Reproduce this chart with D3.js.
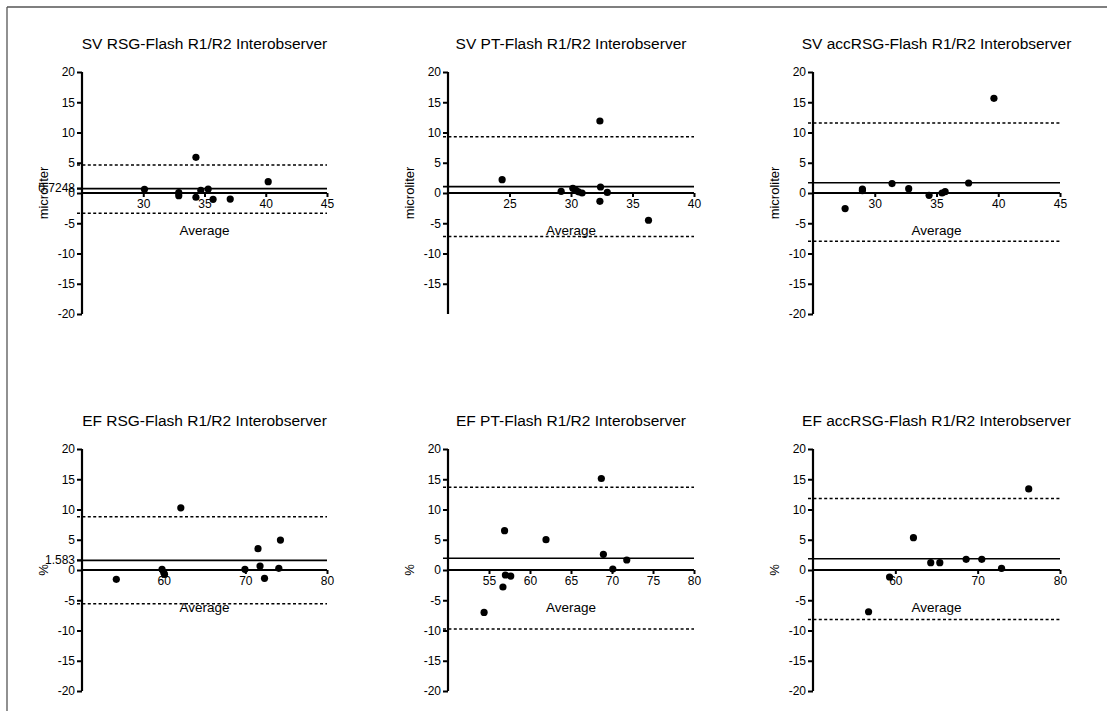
<!DOCTYPE html>
<html><head><meta charset="utf-8">
<script src="https://cdn.jsdelivr.net/npm/d3@7"></script>
<style>
html,body{margin:0;padding:0;background:#fff;}
svg{display:block;font-family:"Liberation Sans",Arial,Helvetica,sans-serif;}
</style></head>
<body>
<svg id="chart" width="1107" height="711"></svg>
<script>
// ---------- data ----------
const titles = [
  "SV RSG-Flash R1/R2 Interobserver",
  "SV PT-Flash R1/R2 Interobserver",
  "SV accRSG-Flash R1/R2 Interobserver",
  "EF RSG-Flash R1/R2 Interobserver",
  "EF PT-Flash R1/R2 Interobserver",
  "EF accRSG-Flash R1/R2 Interobserver"
];
const yTitles = ["microliter","microliter","microliter","%","%","%"];
const xTitle = "Average";
const xDomains = [[25,45],[20,40],[25,45],[50,80],[50,80],[50,80]];
const xTickValues = [[30,35,40,45],[25,30,35,40],[30,35,40,45],[60,70,80],[55,60,65,70,75,80],[60,70,80]];
const yDomain = [-20,20];
const yTickFull = [20,15,10,5,0,-5,-10,-15,-20];
const yTickNoBottom = [20,15,10,5,0,-5,-10,-15];
const yTickValues = [yTickFull,yTickNoBottom,yTickFull,yTickFull,yTickFull,yTickFull];
const bias = [0.7248, 1.05, 1.7, 1.583, 1.95, 1.85];
const biasLabels = ["0.7248", null, null, "1.583", null, null];
const upperLoA = [4.63, 9.3, 11.57, 8.8, 13.68, 11.8];
const lowerLoA = [-3.36, -7.17, -7.98, -5.58, -9.77, -8.18];

const svRsgAvg  = [30.1, 32.9, 32.9, 34.3, 34.3, 34.7, 35.3, 35.7, 37.1, 40.2];
const svRsgDiff = [0.6, 0.05, -0.45, 5.9, -0.7, 0.45, 0.66, -1.04, -1.0, 1.87];
const svPtAvg   = [24.4, 29.2, 30.15, 30.4, 30.6, 30.9, 32.35, 32.4, 32.35, 32.95, 36.3];
const svPtDiff  = [2.2, 0.27, 0.77, 0.44, 0.2, 0.0, 11.9, 0.99, -1.38, 0.1, -4.5];
const svAccAvg  = [27.6, 29.0, 29.0, 31.4, 32.75, 34.4, 35.45, 35.7, 37.6, 39.65];
const svAccDiff = [-2.58, 0.65, 0.4, 1.55, 0.72, -0.38, 0.0, 0.22, 1.65, 15.65];
const efRsgAvg  = [54.2, 59.8, 60.0, 60.1, 62.1, 69.95, 71.55, 71.8, 72.35, 74.1, 74.3];
const efRsgDiff = [-1.54, 0.11, -0.38, -0.71, 10.28, 0.11, 3.52, 0.66, -1.37, 0.28, 4.95];
const efPtAvg   = [54.4, 56.7, 56.9, 57.0, 57.65, 61.95, 68.7, 68.95, 70.1, 71.8];
const efPtDiff  = [-7.02, -2.81, 6.5, -0.83, -1.0, 5.02, 15.12, 2.59, 0.16, 1.65];
const efAccAvg  = [56.75, 59.3, 62.2, 64.3, 65.4, 68.6, 70.5, 72.9, 76.2];
const efAccDiff = [-6.9, -1.16, 5.35, 1.21, 1.21, 1.76, 1.76, 0.27, 13.4];

const avgs  = [svRsgAvg, svPtAvg, svAccAvg, efRsgAvg, efPtAvg, efAccAvg];
const diffs = [svRsgDiff, svPtDiff, svAccDiff, efRsgDiff, efPtDiff, efAccDiff];

// ---------- layout ----------
const colRanges = [[82,327],[448,694],[813,1060]];
const rowRanges = [[314,72],[691,449]];

const svg = d3.select("#chart");

// frame
svg.append("line").attr("x1",7).attr("y1",7).attr("x2",1107).attr("y2",7)
  .attr("stroke","#555").attr("stroke-width",1.3);
svg.append("line").attr("x1",7).attr("y1",7).attr("x2",7).attr("y2",711)
  .attr("stroke","#555").attr("stroke-width",1.3);

titles.forEach((t,i)=>{
  const col = i%3, row = Math.floor(i/3);
  const x = d3.scaleLinear().domain(xDomains[i]).range(colRanges[col]);
  const y = d3.scaleLinear().domain(yDomain).range(rowRanges[row]);
  const g = svg.append("g");
  const x0 = x.range()[0], x1 = x.range()[1];
  const y0 = y(0);

  // title
  g.append("text").attr("x",(x0+x1)/2).attr("y",y(20)-23)
    .attr("text-anchor","middle").attr("font-size","15.5px").attr("fill","#000").text(t);

  // reference lines
  const hline = (v,dash,w)=>g.append("line")
    .attr("x1",x0-5).attr("x2",x1).attr("y1",y(v)).attr("y2",y(v))
    .attr("stroke","#000").attr("stroke-width",w)
    .attr("stroke-dasharray",dash);
  hline(upperLoA[i],"3,2.4",1.5);
  hline(lowerLoA[i],"3,2.4",1.5);
  hline(bias[i],null,1.6);

  // y axis
  const ticks = yTickValues[i].slice();
  const yAxis = d3.axisLeft(y).tickValues(ticks).tickSize(5).tickPadding(2).tickSizeOuter(0)
    .tickFormat(d=>d);
  const ya = g.append("g").attr("transform",`translate(${x0},0)`).call(yAxis);
  ya.select(".domain").attr("stroke","#000").attr("stroke-width",2.2).attr("d",`M0,${y(20)}V${y(-20)}`);
  ya.selectAll(".tick line").attr("stroke","#000").attr("stroke-width",2);
  ya.selectAll(".tick text").attr("font-size","12px").attr("fill","#000").attr("font-family","Liberation Sans, Arial, sans-serif");
  if (biasLabels[i]) {
    const bt = ya.append("g").attr("class","tick").attr("transform",`translate(0,${y(bias[i])})`);
    bt.append("line").attr("x2",-5).attr("stroke","#000").attr("stroke-width",2);
    bt.append("text").attr("x",-7).attr("dy","0.32em").attr("text-anchor","end")
      .attr("font-size","12px").attr("fill","#000").text(biasLabels[i]);
  }

  // x axis at zero
  const xAxis = d3.axisBottom(x).tickValues(xTickValues[i]).tickSize(4).tickPadding(2).tickSizeOuter(0)
    .tickFormat(d=>d);
  const xa = g.append("g").attr("transform",`translate(0,${y0})`).call(xAxis);
  xa.select(".domain").attr("stroke","#000").attr("stroke-width",2.2).attr("d",`M${x0},0H${x1}`);
  xa.selectAll(".tick line").attr("stroke","#000").attr("stroke-width",2);
  xa.selectAll(".tick text").attr("font-size","12px").attr("fill","#000").attr("font-family","Liberation Sans, Arial, sans-serif");

  // axis titles
  g.append("text").attr("x",(x0+x1)/2).attr("y",y0+37).attr("dy","0.35em")
    .attr("text-anchor","middle").attr("font-size","13.5px").attr("fill","#000").text(xTitle);
  const cy = (y.range()[0]+y.range()[1])/2;
  g.append("text").attr("transform",`translate(${x0-39},${cy}) rotate(-90)`).attr("dy","0.35em")
    .attr("text-anchor","middle").attr("font-size","13px").attr("fill","#000").text(yTitles[i]);

  // points
  g.selectAll("circle.pt").data(avgs[i].map((a,k)=>[a,diffs[i][k]])).enter()
    .append("circle").attr("class","pt")
    .attr("cx",d=>x(d[0])).attr("cy",d=>y(d[1])).attr("r",3.6).attr("fill","#000");
});
</script>
</body></html>
